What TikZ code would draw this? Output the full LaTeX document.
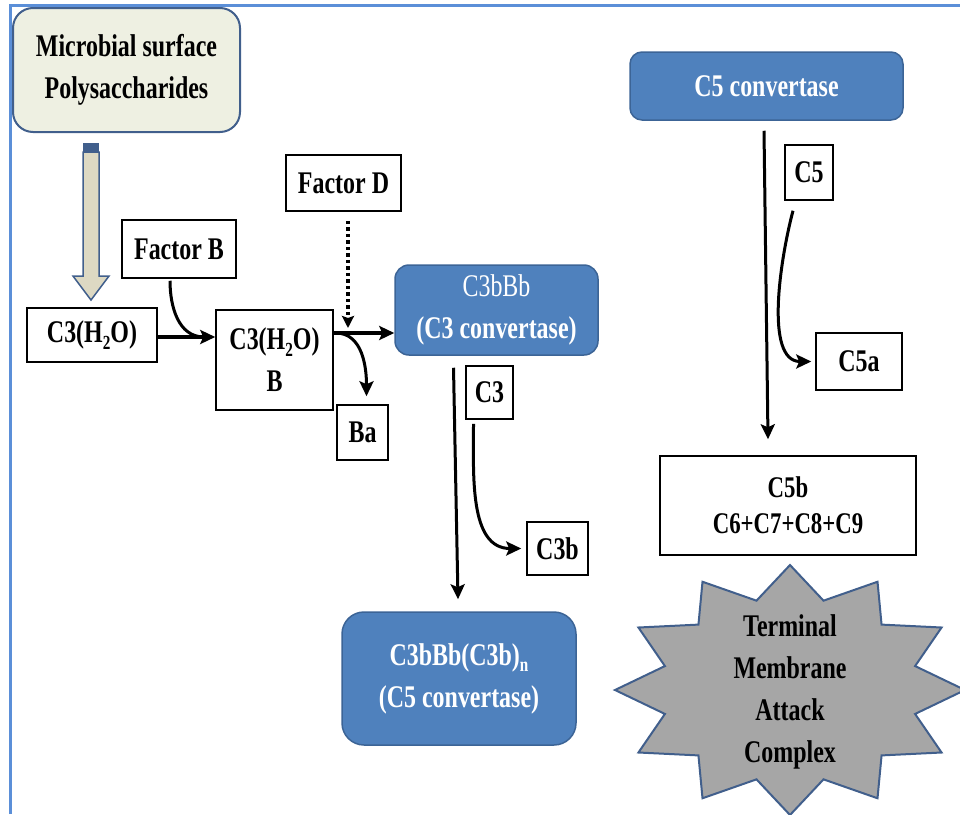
\documentclass[tikz,border=0pt]{standalone}
\usepackage{fontspec}
\setmainfont{Liberation Serif}[FakeStretch=0.76]
\usetikzlibrary{arrows.meta}
\definecolor{frameblue}{RGB}{91,143,216}
\definecolor{convfill}{RGB}{79,129,189}
\definecolor{convedge}{RGB}{60,100,150}
\definecolor{palefill}{RGB}{238,240,226}
\definecolor{fatfill}{RGB}{221,217,195}
\definecolor{darkedge}{RGB}{65,95,140}
\definecolor{macfill}{RGB}{166,166,166}
\newcommand{\lowsub}[1]{\raisebox{-0.45ex}{\fontsize{20}{20}\selectfont #1}}

\begin{document}
\begin{tikzpicture}[x=1pt,y=-1pt,every node/.style={font=\fontsize{31.5}{42}\selectfont\bfseries,align=center,inner sep=0pt},molbox/.style={draw,rectangle,fill=white,line width=1.5pt},convbox/.style={draw=convedge,fill=convfill,rounded corners=14pt,line width=1.5pt,text=white},softbox/.style={draw=darkedge,fill=palefill,rounded corners=20pt,line width=2pt},macstar/.style={draw=darkedge,fill=macfill,line width=2pt,line join=miter},fatarrow/.style={draw=darkedge,fill=fatfill,line width=1.5pt},framebar/.style={draw=frameblue,line width=3pt},every edge/.style={draw,line width=3pt,-{Stealth[length=15pt,width=14pt,inset=3pt]}},bold/.style={line width=4.5pt},joinline/.style={-},dotline/.style={line width=3.5pt,dash pattern=on 3.5pt off 3pt}]
\useasboundingbox (0,0) rectangle (960,814);
\draw[framebar] (10,814) -- (10,5) -- (960,5);
% left branch
\node[softbox,minimum width=227,minimum height=124] (microbe) at (126.5,70) {Microbial surface\\Polysaccharides};
\node[molbox,minimum width=130,minimum height=54] (hydro) at (92,335) {C3(H\lowsub{2}O)};
\node[molbox,minimum width=114,minimum height=58] (factB) at (179,249) {Factor B};
\node[molbox,minimum width=117,minimum height=100] (hydroB) at (274.5,360) {C3(H\lowsub{2}O)\\B};
\node[molbox,minimum width=115,minimum height=56] (factD) at (343.5,183) {Factor D};
\node[molbox,minimum width=51,minimum height=55] (ba) at (362.5,432.5) {Ba};
\node[convbox,minimum width=203,minimum height=90] (c3conv) at (496.5,310) {{\mdseries C3bBb}\\(C3 convertase)};
\node[molbox,minimum width=47,minimum height=53] (c3) at (489.5,392.5) {C3};
\node[molbox,minimum width=61,minimum height=53] (c3b) at (557.5,548.5) {C3b};
\node[convbox,rounded corners=22pt,minimum width=234,minimum height=133] (c5convA) at (459,678.5) {C3bBb(C3b)\lowsub{n}\\(C5 convertase)};
% right branch
\node[convbox,rounded corners=12pt,minimum width=273,minimum height=68] (c5conv) at (766.5,86) {C5 convertase};
\node[molbox,minimum width=48,minimum height=55] (c5) at (809,172.5) {C5};
\node[molbox,minimum width=86,minimum height=57] (c5a) at (859,361.5) {C5a};
\node[molbox,minimum width=256,minimum height=99,font=\fontsize{30}{36}\selectfont\bfseries] (c5b) at (788,505.5) {C5b\\C6+C7+C8+C9};
\coordinate (macc) at (790,690);
\draw[macstar] ([shift={(90:175 and 125)}]macc) \foreach \a in {90,120,...,420}{ -- ([shift={({\a+15}:129.5 and 92.5)}]macc) -- ([shift={({\a+30}:175 and 125)}]macc)} -- cycle;
\node (mac) at (790,692) {Terminal\\Membrane\\Attack\\Complex};
% fat arrow from the microbe box
\draw[fatarrow] (83,152) -- (99,152) -- (99,276) -- (109,276) -- (91,300) -- (73,276) -- (83,276) -- cycle;
\fill[darkedge] (83,143) rectangle (99,152);
\coordinate (bjoin) at (204,337);
\coordinate (djoin) at (348,328);
\path (hydro.east |- 0,337) edge[bold] (hydroB.west |- 0,337);
\path ([xshift=-9,yshift=-2]factB.south) edge[joinline,out=-90,in=180] (bjoin);
\path ([xshift=4.5,yshift=-9]factD.south) edge[dotline,-{Stealth[length=12pt,width=12pt,inset=2pt]}] (djoin);
\path (hydroB.east |- 0,333) edge[bold] (c3conv.west |- 0,333);
\path ([xshift=2]hydroB.east |- 0,333) edge[out=0,in=90] ([xshift=4,yshift=8]ba.north);
\path ([xshift=-43,yshift=-12]c3conv.south) edge ([xshift=-1,yshift=12]c5convA.north);
\path ([xshift=-16,yshift=-4]c3.south) edge[out=-90,in=180] ([xshift=-5]c3b.west);
\path ([xshift=-2.5,yshift=-10]c5conv.south) edge ([xshift=-20,yshift=16]c5b.north);
\path ([xshift=-16,yshift=-10]c5.south) edge[out=-105,in=180,looseness=0.8] ([xshift=-4]c5a.west);
\end{tikzpicture}
\end{document}
